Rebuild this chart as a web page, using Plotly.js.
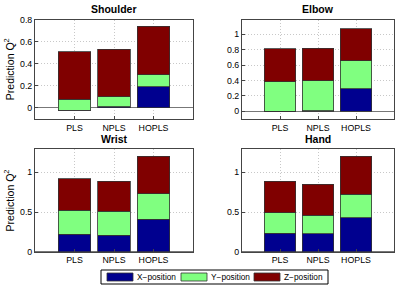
<!DOCTYPE html>
<html>
<head>
<meta charset="utf-8">
<script src="https://cdn.plot.ly/plotly-3.0.1.min.js"></script>
<style>html,body{margin:0;padding:0;background:#fff;}#chart{width:399px;height:287px;}</style>
</head>
<body>
<div id="chart"></div>
<script>
// Data
var methods = ['PLS', 'NPLS', 'HOPLS'];
var panels = ['Shoulder', 'Elbow', 'Wrist', 'Hand'];
var seriesNames = ['X\u2212position', 'Y\u2212position', 'Z\u2212position'];
// per-panel component Q2 values (stacked): X, Y, Z for PLS, NPLS, HOPLS
var shoulderX = [-0.02, 0.01, 0.19];
var shoulderY = [0.10, 0.09, 0.11];
var shoulderZ = [0.43, 0.43, 0.44];
var elbowX = [0.00, 0.01, 0.29];
var elbowY = [0.38, 0.385, 0.365];
var elbowZ = [0.43, 0.425, 0.415];
var wristX = [0.22, 0.21, 0.41];
var wristY = [0.30, 0.30, 0.32];
var wristZ = [0.40, 0.38, 0.47];
var handX = [0.235, 0.227, 0.428];
var handY = [0.255, 0.235, 0.295];
var handZ = [0.40, 0.387, 0.482];

var panelData = [
  [shoulderX, shoulderY, shoulderZ],
  [elbowX, elbowY, elbowZ],
  [wristX, wristY, wristZ],
  [handX, handY, handZ]
];
var colors = ['rgb(0,0,143)', 'rgb(128,255,128)', 'rgb(128,0,0)'];
var xpos = [1, 2, 3];

var W = 399, H = 287;
function px(v){return v / W;}
function py(v){return 1 - v / H;}
var doms = [
  {x:[px(35), px(193)], y:[py(119), py(19.5)]},
  {x:[px(242), px(394)], y:[py(119), py(19.5)]},
  {x:[px(35), px(193)], y:[py(251.7), py(149.3)]},
  {x:[px(242), px(394)], y:[py(251.7), py(149.3)]}
];
var yranges = [[-0.1, 0.8], [-0.1, 1.19], [0, 1.29], [0, 1.29]];
var ydticks = [0.2, 0.2, 0.5, 0.5];

var traces = [];
var layout = {
  width: W, height: H,
  margin: {l:0, r:0, t:0, b:0},
  paper_bgcolor: '#fff', plot_bgcolor: '#fff',
  barmode: 'stack',
  font: {family: 'Liberation Sans, Arial, sans-serif', size: 9, color: '#000'},
  showlegend: false,
  annotations: [],
  shapes: []
};

panelData.forEach(function(pd, i){
  var k = i === 0 ? '' : String(i + 1);
  pd.forEach(function(vals, s){
    traces.push({
      type: 'bar', x: xpos, y: vals, name: seriesNames[s],
      xaxis: 'x' + k, yaxis: 'y' + k, width: 0.82,
      marker: {color: colors[s], line: {color: 'rgb(50,50,50)', width: 0.8}},
      hoverinfo: 'skip'
    });
  });
  var ax = {
    domain: doms[i].x, range: [0, 4], tickvals: xpos, ticktext: methods,
    showline: true, mirror: true, linecolor: '#444', linewidth: 1,
    ticks: 'inside', ticklen: 3, tickcolor: '#444',
    showgrid: true, gridcolor: '#c8c8c8', griddash: '1px,2px', gridwidth: 1,
    zeroline: false, anchor: 'y' + k, fixedrange: true,
    tickfont: {size: 8.8}
  };
  var ay = {
    domain: doms[i].y, range: yranges[i], dtick: ydticks[i], tick0: 0,
    showline: true, mirror: true, linecolor: '#444', linewidth: 1,
    ticks: 'inside', ticklen: 3, tickcolor: '#444',
    showgrid: true, gridcolor: '#c8c8c8', griddash: '1px,2px', gridwidth: 1,
    zeroline: true, zerolinecolor: '#777', zerolinewidth: 1,
    anchor: 'x' + k, fixedrange: true, tickfont: {size: 8.8}
  };
  if (i % 2 === 0) {
    ay.title = {text: 'Prediction Q<sup>2</sup>', font: {size: 10.5}, standoff: 3};
  }
  layout['xaxis' + k] = ax;
  layout['yaxis' + k] = ay;
  layout.annotations.push({
    text: '<b>' + panels[i] + '</b>', xref: 'paper', yref: 'paper',
    x: (doms[i].x[0] + doms[i].x[1]) / 2, y: doms[i].y[1] + 10 / H,
    xanchor: 'center', yanchor: 'middle', showarrow: false,
    font: {size: 10.5}
  });
});

// Legend box (MATLAB style)
var legBox = {x0: 101, x1: 328, y0: 270, y1: 284};
layout.shapes.push({type: 'rect', xref: 'paper', yref: 'paper',
  x0: px(legBox.x0), x1: px(legBox.x1), y0: py(legBox.y1), y1: py(legBox.y0),
  line: {color: '#000', width: 1}, fillcolor: '#fff'});
var swX = [107, 181, 254];
seriesNames.forEach(function(n, s){
  layout.shapes.push({type: 'rect', xref: 'paper', yref: 'paper',
    x0: px(swX[s]), x1: px(swX[s] + 26), y0: py(281), y1: py(273),
    line: {color: 'rgb(50,50,50)', width: 0.8}, fillcolor: colors[s]});
  layout.annotations.push({text: n, xref: 'paper', yref: 'paper',
    x: px(swX[s] + 28), y: py(277), xanchor: 'left', yanchor: 'middle',
    showarrow: false, font: {size: 8.3}});
});

Plotly.newPlot('chart', traces, layout, {staticPlot: true});
</script>
</body>
</html>
